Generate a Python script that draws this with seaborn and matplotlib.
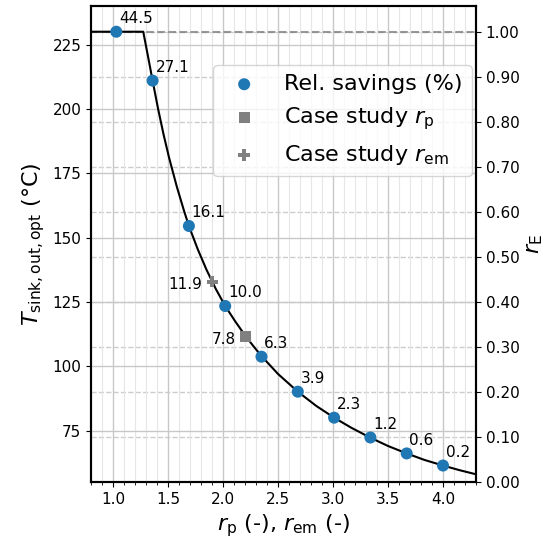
import numpy as np
import pandas as pd
import matplotlib
matplotlib.use('Agg')
import matplotlib.pyplot as plt
import seaborn as sns
from matplotlib.ticker import MultipleLocator, FormatStrFormatter

# curve
curve_r = [0.8, 1.275, 1.32, 1.36, 1.41, 1.46, 1.51, 1.58, 1.645, 1.69, 1.77, 1.85,
           1.935, 2.02, 2.11, 2.2, 2.28, 2.355, 2.5, 2.68, 2.85, 3.01, 3.17, 3.336,
           3.5, 3.67, 3.83, 4.0, 4.15, 4.3]
curve_T = [230, 230, 220, 211, 200, 190, 181, 169.8, 160.5, 154.5, 145.5, 137.5,
           130, 123.4, 117.5, 112, 107.6, 103.7, 97, 90.1, 84.5, 80, 76, 72.3,
           69, 66.1, 63.6, 61.4, 59.6, 58]

# blue points with relative savings labels
pts_r = [1.03, 1.36, 1.69, 2.02, 2.35, 2.68, 3.01, 3.34, 3.67, 4.00]
pts_T = [230, 211, 154.5, 123.4, 103.7, 90.1, 80, 72.3, 66.1, 61.4]
pts_sav = ['44.5', '27.1', '16.1', '10.0', '6.3', '3.9', '2.3', '1.2', '0.6', '0.2']

# case studies
case_p_r, case_p_T, case_p_lab = 2.206, 111.6, '7.8'
case_em_r, case_em_T, case_em_lab = 1.903, 132.9, '11.9'

T_max = 230
T_lo, T_hi = 55, 240

sns.set_style('ticks')
plt.rcParams['font.family'] = ['DejaVu Sans']
plt.rcParams.update({'text.color': 'black', 'axes.labelcolor': 'black',
                     'xtick.color': 'black', 'ytick.color': 'black'})

fig = plt.figure(figsize=(5.55, 5.42), dpi=100)
ax = fig.add_axes([91/555, 60/542, 385/555, 476/542])
ax2 = ax.twinx()

# main axis in front of the twin so the dashed grid stays behind the marks
ax.set_zorder(ax2.get_zorder() + 1)
ax.patch.set_visible(False)

ax.axhline(T_max, color='gray', ls='--', lw=1.5, alpha=0.8, zorder=1)
sns.lineplot(x=curve_r, y=curve_T, sort=False, estimator=None, color='black',
             lw=1.5, ax=ax, zorder=3)
sns.scatterplot(x=pts_r, y=pts_T, color='#1f77b4', s=75, edgecolor='none',
                label='Rel. savings (%)', ax=ax, zorder=4)
sns.scatterplot(x=[case_p_r], y=[case_p_T], color='gray', marker='s', s=65,
                edgecolor='none', label=r'Case study $r_\mathrm{p}$', ax=ax, zorder=4)
sns.scatterplot(x=[case_em_r], y=[case_em_T], color='gray', marker='P', s=70,
                edgecolor='none', label=r'Case study $r_\mathrm{em}$', ax=ax, zorder=4)

for r, T, s in zip(pts_r, pts_T, pts_sav):
    ax.annotate(s, (r, T), xytext=(2, 4), textcoords='offset points',
                ha='left', va='bottom', fontsize=11)
ax.annotate(case_p_lab, (case_p_r, case_p_T), xytext=(-7, -2), textcoords='offset points',
            ha='right', va='center', fontsize=11)
ax.annotate(case_em_lab, (case_em_r, case_em_T), xytext=(-7, -2), textcoords='offset points',
            ha='right', va='center', fontsize=11)

ax.set_xlim(0.8, 4.3)
ax.set_ylim(T_lo, T_hi)
ax2.set_ylim(0, (T_hi - T_lo) / (T_max - T_lo))

ax.xaxis.set_major_locator(MultipleLocator(0.5))
ax.xaxis.set_minor_locator(MultipleLocator(0.1))
ax.yaxis.set_major_locator(MultipleLocator(25))
ax2.yaxis.set_major_locator(MultipleLocator(0.1))
ax2.yaxis.set_major_formatter(FormatStrFormatter('%.2f'))

ax.grid(True, which='major', color='#c8c8c8', lw=1.0)
ax.grid(True, which='minor', axis='x', color='#e6e6e6', lw=0.8)
ax2.grid(True, which='major', axis='y', color='#cccccc', ls='--', lw=1.0)

for a in (ax, ax2):
    for sp in a.spines.values():
        sp.set_linewidth(1.5)
        sp.set_visible(True)
        sp.set_color('black')
    a.tick_params(labelsize=11)

ax.set_xlabel(r'$r_\mathrm{p}$ (-), $r_\mathrm{em}$ (-)', fontsize=16)
ax.set_ylabel(r'$T_\mathrm{sink,out,opt}$ (°C)', fontsize=16)
ax2.set_ylabel(r'$r_\mathrm{E}$', fontsize=16)

ax.legend(loc='upper right', bbox_to_anchor=(1.0, 0.885), fontsize=16,
          borderaxespad=0.2)

fig.savefig('out.png', dpi=100)
